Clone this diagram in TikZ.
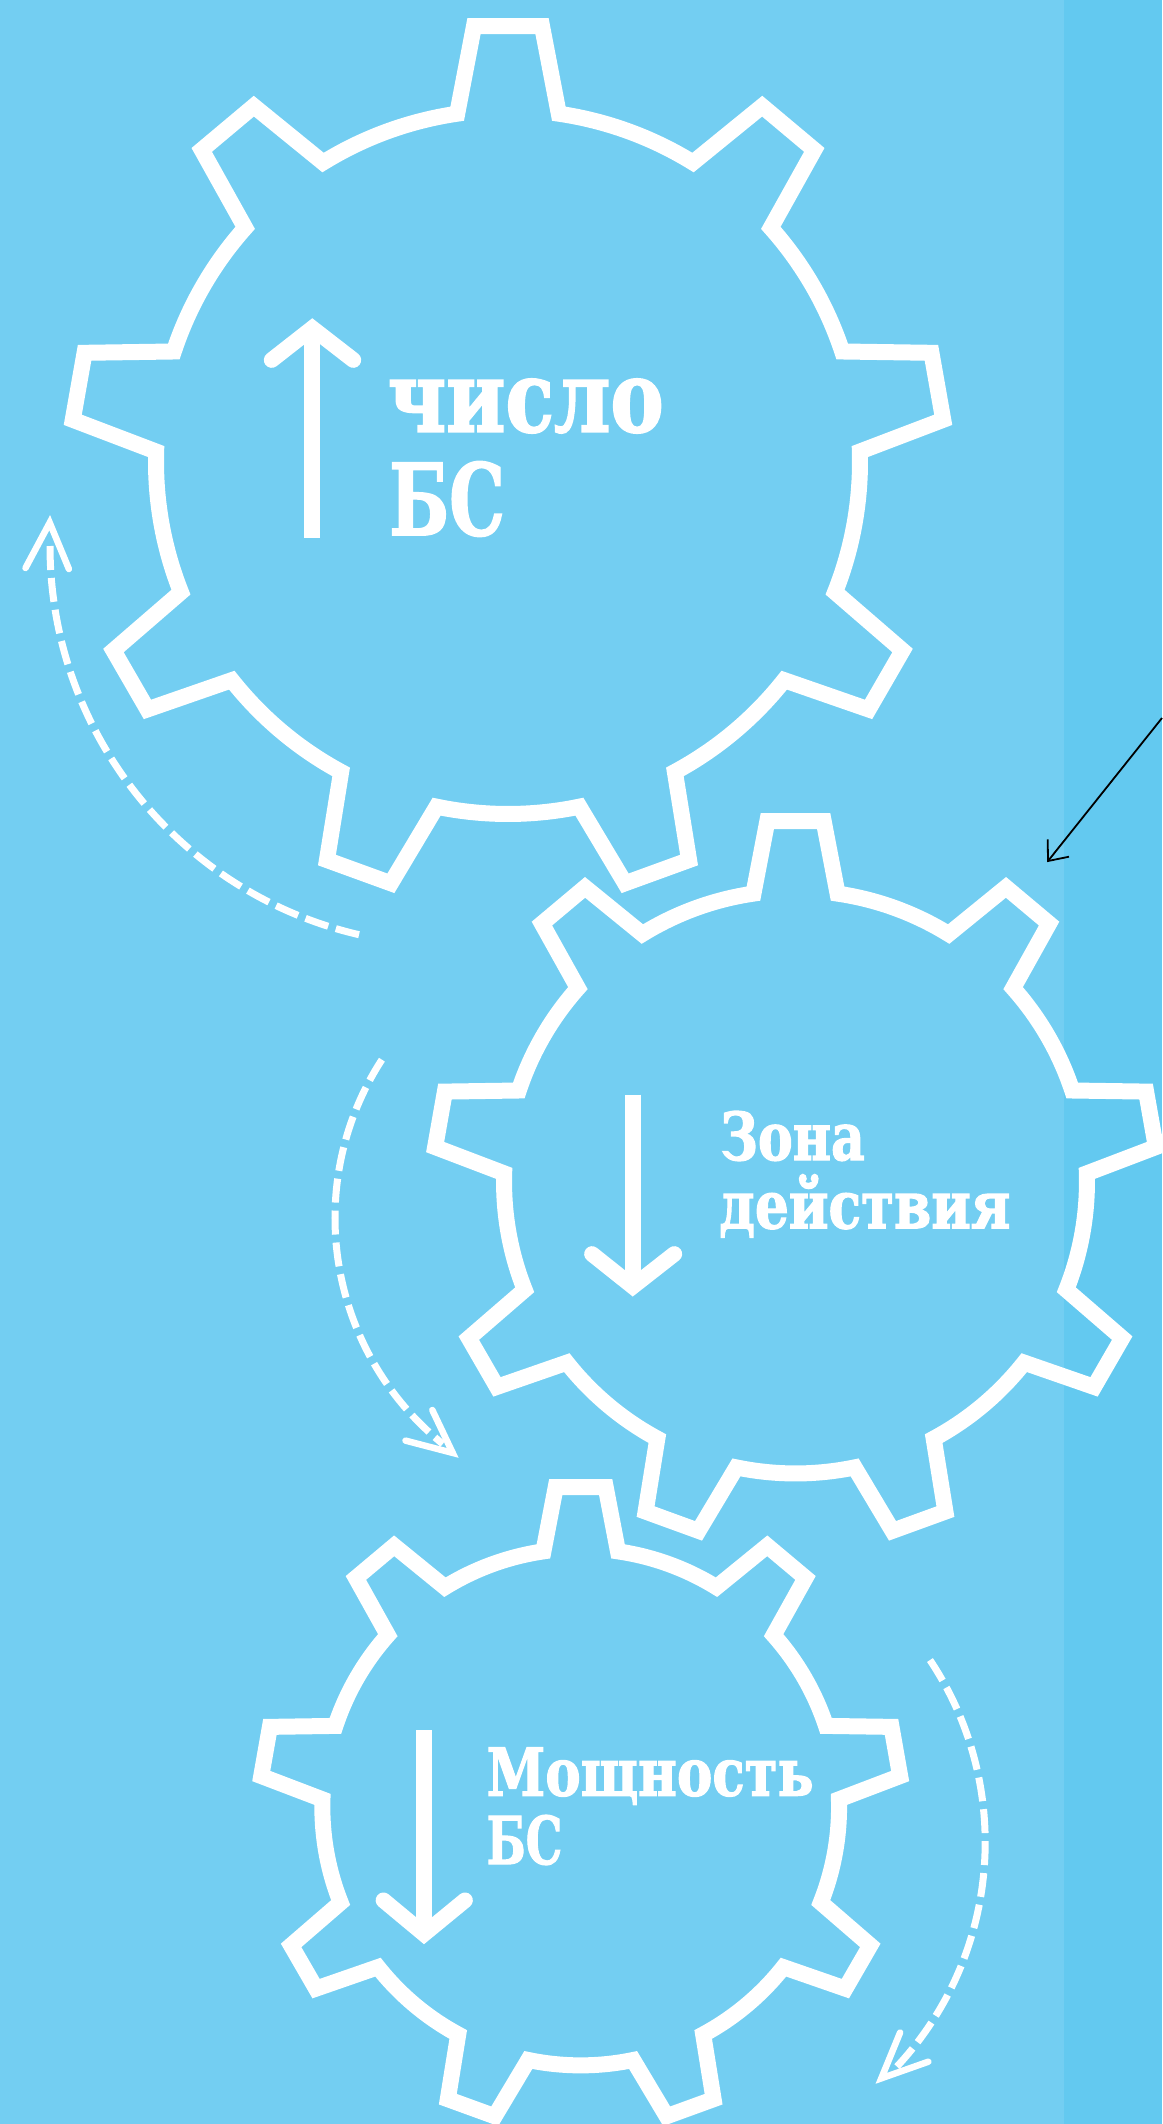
\documentclass[tikz,border=0pt]{standalone}
\usepackage{graphicx}
\usepackage{fontspec}
\newfontfamily\slab{DejaVu Serif}[BoldFeatures={FakeBold=2}]
\definecolor{bgblue}{HTML}{73CEF2}
\definecolor{stripblue}{HTML}{63C9F0}
\tikzset{
  gearline/.style={draw=white, line width=16pt, line join=miter},
  gearshaft/.style={draw=white, line width=15.7pt, line cap=butt},
  gearhead/.style={draw=white, line width=15.7pt, line cap=round, line join=miter},
  dashline/.style={draw=white, line width=7pt, dash pattern=on 24pt off 8pt},
  dashhead/.style={draw=white, line width=6.5pt, line cap=round, line join=miter},
  pointer/.style={draw=black, line width=1.8pt},
  biglabel/.style={text=white, inner sep=0pt, anchor=base west, font=\slab\bfseries\fontsize{99}{110}\selectfont},
  smalllabel/.style={text=white, inner sep=0pt, anchor=base west, font=\slab\bfseries\fontsize{66}{74}\selectfont},
}
\newcommand{\fitto}[2]{\resizebox{#1}{\height}{#2}}
\newcommand{\drawgear}[3]{%
  \begin{scope}[shift={(#1,#2)}, scale=#3]
    \draw[gearline] (-98.3:352) \foreach \k in {0,...,8} {
      -- ({-90+40*\k-4.46}:437.3) -- ({-90+40*\k+4.46}:437.3) -- ({-90+40*\k+8.3}:352)
      arc[start angle={-90+40*\k+8.3}, end angle={-90+40*\k+31.7}, radius=352]
    } -- cycle;
  \end{scope}}
\begin{document}
\begin{tikzpicture}[x=1pt, y=-1pt]
  \useasboundingbox (0,0) rectangle (1162,2124);
  \fill[bgblue] (0,0) rectangle (1064,2124);
  \fill[stripblue] (1064,0) rectangle (1162,2124);

  % gears
  \drawgear{508}{462}{1}
  \drawgear{795.5}{1182}{0.828}
  \drawgear{580.7}{1807}{0.734}

  % arrows inside gears
  \draw[gearshaft] (312.3,335) -- (312.3,538.3);
  \draw[gearhead] (271.7,360) -- (312.3,328.2) -- (353.3,360);

  \draw[gearshaft] (632.8,1094.5) -- (632.8,1280);
  \draw[gearhead] (592,1254) -- (632.8,1286.5) -- (674.3,1254);

  \draw[gearshaft] (424,1730) -- (424,1928);
  \draw[gearhead] (383.5,1900.3) -- (424,1934) -- (465,1900.3);

  % labels
  \node[biglabel] (t1a) at (387.5,431.7) {\fitto{276pt}{число}};
  \node[biglabel] (t1b) at (389.2,535) {\fitto{115.6pt}{БС}};
  \node[smalllabel] (t2a) at (720.1,1160) {\fitto{144.6pt}{Зона}};
  \node[smalllabel] (t2b) at (719.1,1228.3) {\fitto{291pt}{действия}};
  \node[smalllabel] (t3a) at (486.4,1795.6) {\fitto{327pt}{Мощность}};
  \node[smalllabel] (t3b) at (486.4,1864) {\fitto{75.7pt}{БС}};

  % dashed rotation arcs
  \draw[dashline] (449,546) ++(180:399) arc[start angle=180, end angle=102.6, radius=399];
  \draw[dashhead] (25.5,568) -- (49.7,522.7) -- (68.9,569);

  \draw[dashline] (625.7,1218) ++(213:290.7) arc[start angle=213, end angle=129, radius=290.7];
  \draw[dashhead] (405.5,1440.6) -- (452.7,1452.9) -- (432.3,1410);

  \draw[dashline] (656.5,1842.4) ++(-33.7:328.7) arc[start angle=-33.7, end angle=43.5, radius=328.7];
  \draw[dashhead] (900.1,2032.5) -- (881.3,2078.3) -- (928.3,2061.7);

  % black pointer
  \coordinate (pstart) at (1162,718);
  \coordinate (ptip) at (1048,861);
  \draw[pointer] (pstart) -- (ptip);
  \draw[pointer, line join=miter] (1047.7,839.3) -- (ptip) -- (1069,856.7);
\end{tikzpicture}
\end{document}
